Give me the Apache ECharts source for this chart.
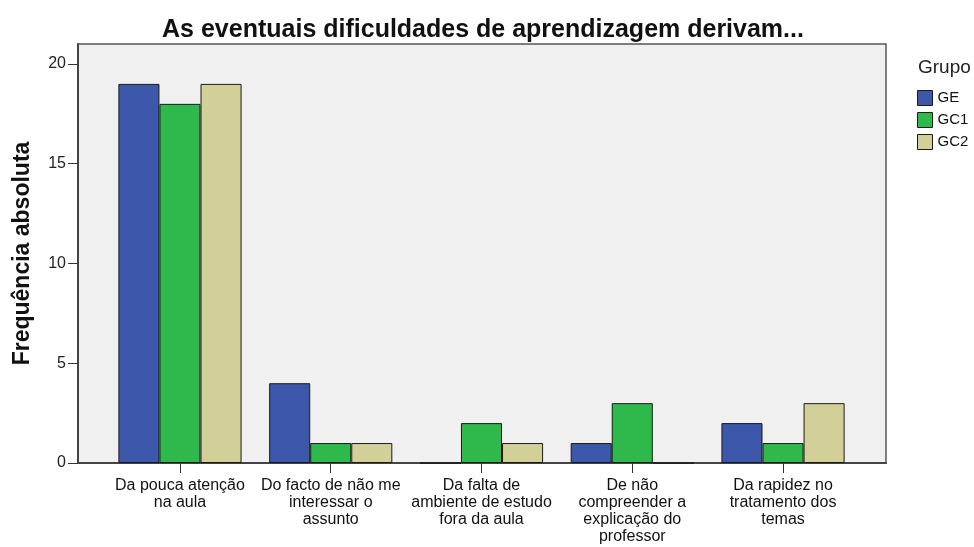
<!DOCTYPE html>
<html>
<head>
<meta charset="utf-8">
<script src="https://cdn.jsdelivr.net/npm/echarts@6/dist/echarts.min.js"></script>
<style>
  html, body { margin: 0; padding: 0; background: #ffffff; }
  #chart { width: 974px; height: 547px; }
</style>
</head>
<body>
<div id="chart"></div>
<script>
// Categories (answer options) and frequencies per group
const categories = [
  'Da pouca atenção\nna aula',
  'Do facto de não me\ninteressar o\nassunto',
  'Da falta de\nambiente de estudo\nfora da aula',
  'De não\ncompreender a\nexplicação do\nprofessor',
  'Da rapidez no\ntratamento dos\ntemas'
];
const groupNames = ['GE', 'GC1', 'GC2'];
const valuesGE  = [19, 4, 0, 1, 2];
const valuesGC1 = [18, 1, 2, 3, 1];
const valuesGC2 = [19, 1, 1, 0, 3];
const yTicks = [0, 5, 10, 15, 20];

const colors = ['#3d57aa', '#2fb84b', '#d3cf99'];
const font = '"Liberation Sans", Arial, sans-serif';

const chart = echarts.init(document.getElementById('chart'), null, { renderer: 'canvas' });

const seriesData = [valuesGE, valuesGC1, valuesGC2];

chart.setOption({
  animation: false,
  backgroundColor: '#ffffff',
  title: {
    text: 'As eventuais dificuldades de aprendizagem derivam...',
    left: 478, top: 13, textAlign: 'center',
    textStyle: { fontFamily: font, fontSize: 25, fontWeight: 'bold', color: '#111' }
  },
  legend: {
    orient: 'vertical',
    left: 917, top: 90, padding: 0,
    itemWidth: 15, itemHeight: 15, itemGap: 6,
    icon: 'rect',
    data: groupNames,
    itemStyle: { borderWidth: 1, borderColor: '#1a1a1a' },
    textStyle: { fontFamily: font, fontSize: 15, color: '#111' }
  },
  graphic: [{
    type: 'text', left: 918, top: 58,
    style: { text: 'Grupo', fontFamily: font, fontSize: 19, fill: '#222' }
  }],
  grid: [
    // frame of the plotting area
    { left: 78, right: 88, top: 44, bottom: 84, show: true,
      backgroundColor: '#f0f0f0', borderColor: '#555', borderWidth: 1.5 },
    // band area holding the five category groups
    { left: 104.6, right: 115.6, top: 44, bottom: 84 }
  ],
  xAxis: [
    { type: 'value', gridIndex: 0, min: 0, max: 1,
      axisLine: { show: true, lineStyle: { color: '#444', width: 2 } },
      axisTick: { show: false }, axisLabel: { show: false }, splitLine: { show: false } },
    { type: 'category', gridIndex: 1, data: categories,
      axisLine: { show: false },
      axisTick: { show: true, alignWithLabel: true, length: 10, lineStyle: { color: '#333', width: 1 } },
      axisLabel: { interval: 0, margin: 14, fontFamily: font, fontSize: 16, color: '#111',
        lineHeight: 17, align: 'center' } }
  ],
  yAxis: [
    { type: 'value', gridIndex: 0, min: 0, max: 21,
      name: 'Frequência absoluta', nameLocation: 'middle', nameGap: 44, nameRotate: 90,
      nameTextStyle: { fontFamily: font, fontSize: 23, fontWeight: 'bold', color: '#111' },
      axisLine: { show: true, lineStyle: { color: '#444', width: 2 } },
      axisTick: { show: true, length: 10, customValues: yTicks, lineStyle: { color: '#333', width: 1 } },
      axisLabel: { customValues: yTicks, margin: 12, fontFamily: font, fontSize: 16, color: '#222' },
      splitLine: { show: false } },
    { type: 'value', gridIndex: 1, min: 0, max: 21, show: false, splitLine: { show: false } }
  ],
  series: groupNames.map((name, i) => ({
    name: name,
    type: 'bar',
    xAxisIndex: 1, yAxisIndex: 1,
    data: seriesData[i],
    barGap: '0%',
    barCategoryGap: '18.3%',
    itemStyle: { color: colors[i], borderColor: '#1a1a1a', borderWidth: 1 }
  }))
});
</script>
</body>
</html>
